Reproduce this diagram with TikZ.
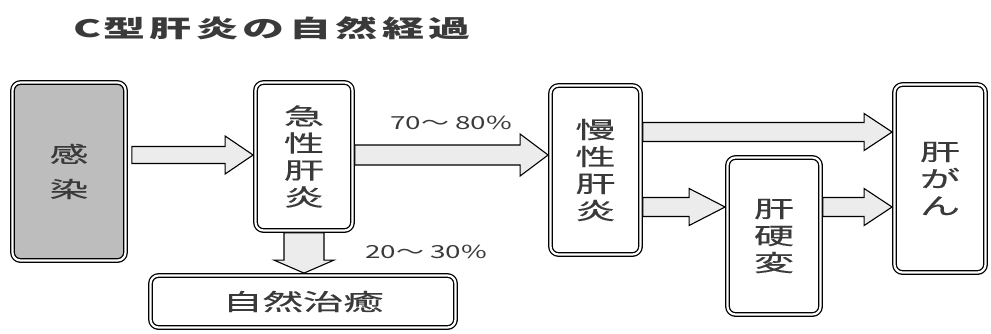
\documentclass[tikz,border=0pt]{standalone}
\usepackage{fontspec}
\usetikzlibrary{calc}
\newfontfamily\cjkw[FakeStretch=1.75,FakeBold=0.4]{Noto Sans CJK JP}
\newfontfamily\cjkt[FakeStretch=1.75]{Noto Sans CJK JP}
\newfontfamily\cjkp[FakeStretch=1.55]{Noto Sans CJK JP}
\definecolor{txt}{HTML}{3A3A3A}
\definecolor{infgray}{HTML}{BDBDBD}
\definecolor{arrfill}{HTML}{ECECEC}
\begin{document}
\begin{tikzpicture}[x=1pt,y=-1pt,
  box/.style={draw=black, rounded corners=8pt, line width=1.3pt, double=white,
    double distance=2.2pt, outer sep=2.4pt, inner sep=0pt, fill=white,
    align=center, text=txt, font={\cjkw\fontsize{23}{27}\selectfont}},
  harr/.style n args={3}{fill=arrfill, draw=black, line width=1.1pt, line join=miter,
    to path={let \p1=(\tikztostart), \p2=(\tikztotarget) in
      (\x1,\y1+#1) -- (\x2-#3,\y1+#1) -- (\x2-#3,\y1+#2) -- (\x2,\y1)
      -- (\x2-#3,\y1-#2) -- (\x2-#3,\y1-#1) -- (\x1,\y1-#1) -- cycle}},
  varr/.style n args={3}{fill=arrfill, draw=black, line width=1.1pt, line join=miter,
    to path={let \p1=(\tikztostart), \p2=(\tikztotarget) in
      (\x1-#1,\y1) -- (\x1-#1,\y2+#3) -- (\x1-#2,\y2+#3) -- (\x1,\y2)
      -- (\x1+#2,\y2+#3) -- (\x1+#1,\y2+#3) -- (\x1+#1,\y1) -- cycle}},
  pct/.style={text=txt, font={\cjkp\fontsize{18}{20}\selectfont}, inner sep=0pt}
]
\useasboundingbox (0,0) rectangle (991,333);

% title
\node[text=txt, inner sep=0pt, font={\cjkt\bfseries\fontsize{24}{26}\selectfont}] (title) at (272,28)
  {C\kern2pt 型\kern4.5pt 肝\kern4.5pt 炎\kern4.5pt の\kern4.5pt 自\kern4.5pt 然\kern4.5pt 経\kern4.5pt 過};

% boxes
\node[box, fill=infgray, minimum width=113pt, minimum height=178pt,
      font={\cjkw\fontsize{22}{35}\selectfont}] (infect) at (69,171.5) {感\\染};
\node[box, minimum width=97pt, minimum height=148pt] (acute) at (304,156.5) {急\\性\\肝\\炎};
\node[box, minimum width=305pt, minimum height=52pt] (heal) at (303,301.5) {自然治癒};
\node[box, minimum width=90pt, minimum height=169pt] (chronic) at (595.5,170) {慢\\性\\肝\\炎};
\node[box, minimum width=93pt, minimum height=157pt] (cirrh) at (774,236) {肝\\硬\\変};
\node[box, minimum width=91pt, minimum height=188pt] (cancer) at (940,178.5) {肝\\が\\ん};

% arrows
\draw[harr={8.5pt}{19pt}{28pt}] ([xshift=4pt]infect.east |- 0,155) to (acute.west |- 0,155);
\draw[harr={10pt}{21pt}{28pt}] (acute.east |- 0,155) to (chronic.west |- 0,155);
\draw[harr={9.5pt}{18.5pt}{28pt}] (chronic.east |- 0,132) to (cancer.west |- 0,132);
\draw[harr={9.5pt}{18.5pt}{36pt}] (chronic.east |- 0,207) to (cirrh.west |- 0,207);
\draw[harr={9.5pt}{18.5pt}{28pt}] (cirrh.east |- 0,207) to (cancer.west |- 0,207);
\draw[varr={20pt}{30pt}{13pt}] (acute.south) to (heal.north -| acute.south);

% labels
\node[pct] (p1) at (451,123) {70〜 80\%};
\node[pct] (p2) at (426,252) {20〜 30\%};
\end{tikzpicture}
\end{document}
